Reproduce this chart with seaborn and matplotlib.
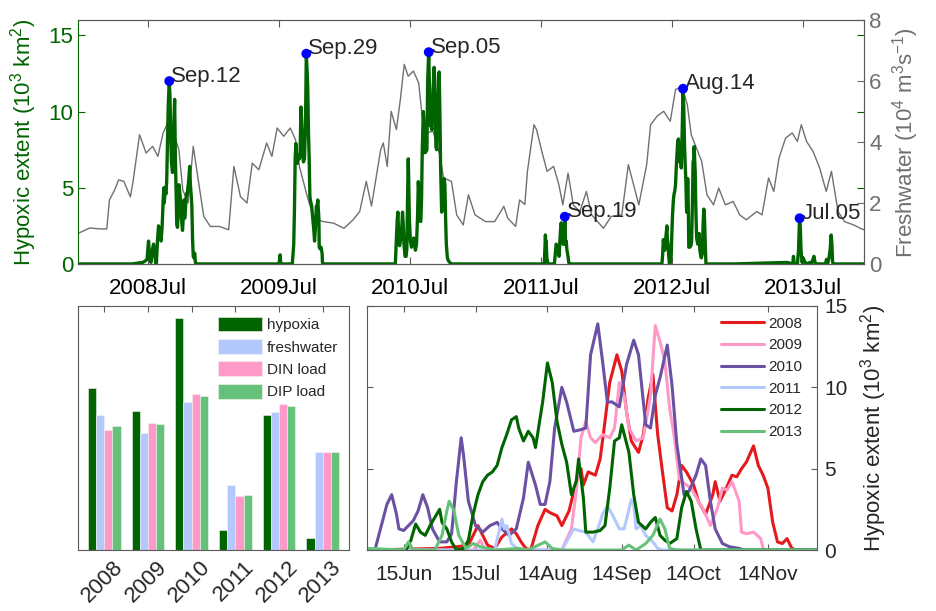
import numpy as np
import pandas as pd
import matplotlib
matplotlib.use("Agg")
import matplotlib.pyplot as plt
import matplotlib.transforms as mtrans
import seaborn as sns
from datetime import date, timedelta

# ---------------- data ----------------
years = [2008, 2009, 2010, 2011, 2012, 2013]

# daily hypoxic extent (10^3 km^2) : (day of year, value)
hyp_2008 = [(1, 0), (152, 0), (182, 0.1), (189, 0.2), (194, 0.3), (198, 1.5), (200, 0.9), (202, 0.3), (205, 0.1),
            (208, 0.8), (212, 1.3), (214, 1.0), (216, 0.5), (218, 0.1), (220, 0), (223, 1.5), (226, 2.5), (228, 2.3),
            (231, 2.1), (233, 1.5), (236, 2.4), (239, 4.2), (241, 5.0), (242, 4.0), (244, 4.8), (247, 4.6), (249, 5.6),
            (251, 7.9), (253, 10.3), (256, 12.0), (258, 11.0), (260, 8.5), (262, 6.7), (265, 6.0), (267, 7.1),
            (269, 9.3), (271, 10.8), (273, 7.1), (275, 4.8), (277, 2.6), (279, 2.4), (281, 3.4), (283, 5.2),
            (285, 4.8), (288, 4.0), (290, 3.0), (293, 2.2), (296, 3.4), (297, 4.2), (299, 3.0), (301, 3.6),
            (304, 4.6), (306, 4.5), (308, 5.0), (310, 5.4), (313, 6.4), (315, 5.2), (317, 4.6), (319, 3.8),
            (321, 1.7), (323, 0.5), (325, 0.4), (327, 0.7), (329, 0.1), (331, 0), (366, 0)]
hyp_2009 = [(1, 0), (152, 0), (196, 0), (199, 0.6), (201, 0), (233, 0), (237, 1.3), (239, 3.6), (241, 6.9), (243, 7.9),
            (245, 6.9), (247, 6.6), (250, 7.1), (253, 6.9), (255, 7.5), (257, 10.3), (259, 9.5), (261, 7.5), (264, 6.7),
            (267, 6.9), (270, 9.5), (272, 13.8), (274, 12.8), (276, 11.6), (278, 8.7), (280, 6.9), (282, 4.4),
            (284, 4.1), (287, 3.8), (290, 3.0), (293, 2.2), (295, 1.5), (298, 2.6), (300, 3.8), (302, 3.7), (304, 4.2),
            (307, 3.0), (308, 1.1), (310, 1.0), (313, 1.1), (316, 0.7), (317, 0.1), (318, 0), (365, 0)]
hyp_2010 = [(1, 0), (152, 0), (155, 0), (160, 2.8), (162, 3.4), (164, 2.2), (165, 1.3), (167, 1.2), (169, 1.5),
            (171, 1.8), (173, 2.4), (175, 3.4), (177, 2.6), (179, 1.3), (182, 0.5), (185, 0.5), (187, 1.0), (189, 4.2),
            (191, 6.9), (192, 5.8), (194, 3.0), (197, 1.5), (200, 1.1), (203, 1.5), (206, 1.7), (208, 1.3), (211, 0.9),
            (214, 1.3), (217, 3.2), (219, 5.4), (222, 4.0), (224, 2.8), (226, 2.8), (228, 4.2), (230, 7.5),
            (233, 10.0), (235, 9.1), (238, 7.3), (241, 7.4), (243, 7.5), (245, 12.0), (248, 13.9), (250, 11.6),
            (252, 9.1), (254, 9.1), (257, 8.8), (260, 11.4), (263, 12.9), (265, 12.0), (268, 7.7), (270, 7.5),
            (272, 9.5), (274, 10.6), (277, 12.6), (279, 10.1), (281, 6.5), (284, 3.4), (286, 3.6), (289, 4.6),
            (291, 5.6), (293, 5.2), (295, 3.0), (297, 1.3), (300, 0.4), (303, 0.2), (307, 0.1), (309, 0), (365, 0)]
hyp_2011 = [(1, 0), (152, 0), (205, 0), (208, 1.9), (209, 1.3), (210, 1.5), (212, 0.4), (215, 0), (233, 0), (238, 1.3),
            (240, 1.2), (243, 1.1), (246, 0.5), (248, 1.3), (250, 2.2), (252, 2.7), (254, 2.2), (257, 1.3), (259, 1.3),
            (262, 3.1), (263, 2.8), (264, 1.3), (266, 1.5), (268, 0.9), (271, 0.5), (273, 0.1), (275, 0), (365, 0)]
hyp_2012 = [(1, 0), (152, 0), (168, 0), (170, 0.6), (172, 1.6), (174, 1.1), (176, 0.9), (178, 1.5), (180, 2.0),
            (182, 2.5), (183, 1.7), (185, 1.3), (187, 0.5), (189, 0), (192, 0.1), (194, 0.6), (196, 2.2), (198, 3.4),
            (200, 4.2), (202, 4.6), (204, 4.8), (206, 5.2), (208, 6.3), (210, 7.1), (212, 8.0), (214, 8.2), (215, 7.5),
            (217, 6.7), (219, 7.3), (221, 6.9), (222, 6.3), (225, 9.1), (227, 11.5), (229, 10.3), (231, 7.9),
            (233, 6.5), (235, 5.4), (237, 3.4), (239, 4.2), (240, 5.6), (242, 3.2), (243, 1.1), (246, 1.1), (249, 1.2),
            (251, 1.5), (253, 3.8), (255, 6.7), (257, 6.9), (258, 7.7), (261, 6.0), (263, 3.4), (265, 1.7), (268, 1.3),
            (270, 1.7), (272, 2.0), (274, 0.9), (276, 0.6), (278, 0.4), (281, 0.7), (283, 2.6), (285, 3.6), (287, 3.0),
            (289, 1.3), (291, 0), (366, 0)]
hyp_2013 = [(1, 0), (152, 0.1), (167, 0), (169, 0.5), (171, 0), (180, 0), (183, 0.9), (185, 2.4), (186, 3.0),
            (188, 2.4), (190, 0.9), (193, 0.1), (196, 0.4), (199, 0.2), (205, 0), (215, 0.1), (219, 0), (226, 0.5),
            (229, 0.1), (233, 0), (258, 0), (261, 0.3), (264, 0), (268, 0.4), (271, 0.9), (274, 1.9), (276, 1.3),
            (278, 0.1), (281, 0), (365, 0)]

# freshwater discharge (10^4 m^3 s^-1) : (decimal year, value)
freshwater = [(2008.00, 1.0), (2008.09, 1.18), (2008.17, 1.15), (2008.22, 1.15), (2008.24, 2.1), (2008.28, 2.43),
              (2008.31, 2.76), (2008.35, 2.71), (2008.40, 2.2), (2008.42, 2.7), (2008.47, 4.24), (2008.52, 3.64),
              (2008.57, 3.86), (2008.61, 3.53), (2008.65, 4.3), (2008.69, 4.68), (2008.73, 4.3), (2008.77, 3.75),
              (2008.80, 2.43), (2008.84, 2.0), (2008.88, 3.86), (2008.91, 2.98), (2008.96, 1.56), (2009.01, 1.23),
              (2009.08, 1.23), (2009.15, 1.12), (2009.19, 3.2), (2009.24, 2.21), (2009.29, 2.0), (2009.33, 3.31),
              (2009.38, 3.09), (2009.44, 3.97), (2009.48, 3.53), (2009.52, 4.46), (2009.57, 4.19), (2009.62, 4.46),
              (2009.66, 4.08), (2009.69, 3.2), (2009.75, 2.21), (2009.80, 1.5), (2009.87, 1.39), (2009.95, 1.34),
              (2010.03, 1.17), (2010.10, 1.45), (2010.15, 1.72), (2010.20, 2.71), (2010.24, 1.9), (2010.31, 3.75),
              (2010.33, 3.97), (2010.36, 3.2), (2010.39, 5.01), (2010.43, 4.41), (2010.46, 5.39), (2010.49, 6.55),
              (2010.52, 6.16), (2010.56, 6.33), (2010.60, 5.94), (2010.64, 4.3), (2010.71, 4.35), (2010.76, 3.59),
              (2010.79, 2.82), (2010.85, 2.71), (2010.89, 1.61), (2010.94, 1.28), (2010.98, 2.27), (2011.03, 1.61),
              (2011.11, 1.39), (2011.18, 1.39), (2011.25, 1.89), (2011.28, 1.5), (2011.34, 1.23), (2011.37, 2.1),
              (2011.41, 1.95), (2011.43, 3.04), (2011.48, 4.57), (2011.50, 4.4), (2011.54, 3.69), (2011.58, 3.04),
              (2011.63, 3.2), (2011.67, 2.6), (2011.70, 1.94), (2011.74, 2.98), (2011.78, 1.94), (2011.83, 1.72),
              (2011.88, 2.38), (2011.92, 1.61), (2012.01, 1.17), (2012.07, 1.56), (2012.15, 1.61), (2012.20, 3.26),
              (2012.24, 2.6), (2012.28, 1.94), (2012.34, 3.26), (2012.37, 4.57), (2012.42, 4.85), (2012.47, 5.01),
              (2012.52, 4.68), (2012.56, 5.72), (2012.61, 5.83), (2012.65, 5.23), (2012.68, 4.24), (2012.72, 3.8),
              (2012.76, 3.36), (2012.80, 2.27), (2012.85, 1.94), (2012.89, 2.49), (2012.94, 1.94), (2013.00, 2.05),
              (2013.05, 1.61), (2013.10, 1.45), (2013.18, 1.72), (2013.22, 1.61), (2013.27, 2.82), (2013.31, 2.38),
              (2013.35, 3.48), (2013.40, 4.13), (2013.45, 4.3), (2013.49, 4.02), (2013.52, 4.57), (2013.56, 4.02),
              (2013.61, 3.69), (2013.66, 3.15), (2013.71, 2.38), (2013.75, 3.04), (2013.80, 1.72), (2013.85, 1.39),
              (2013.92, 1.28), (2013.97, 1.17), (2014.00, 1.12)]

# annual (relative) indices for bar chart
bar_series = ["hypoxia", "freshwater", "DIN load", "DIP load"]
bar_hypoxia = [0.664, 0.570, 0.951, 0.082, 0.553, 0.049]
bar_freshwater = [0.553, 0.480, 0.607, 0.266, 0.566, 0.402]
bar_din = [0.492, 0.520, 0.639, 0.221, 0.598, 0.402]
bar_dip = [0.508, 0.516, 0.631, 0.225, 0.590, 0.402]

season_ticks = [167, 197, 227, 258, 288, 319]
season_labels = ["15Jun", "15Jul", "14Aug", "14Sep", "14Oct", "14Nov"]

# ---------------- style ----------------
sns.set_style("ticks")
plt.rcParams['font.family'] = ['Liberation Sans', 'DejaVu Sans']
plt.rcParams['mathtext.fontset'] = 'custom'
plt.rcParams['mathtext.rm'] = 'Liberation Sans'
plt.rcParams['mathtext.it'] = 'Liberation Sans:italic'
plt.rcParams['mathtext.default'] = 'regular'

GREEN = "#006400"
GRAY = "#707070"
SPINE = "#5a5a5a"
year_colors = ["#e41a1c", "#ff99c8", "#6a51a3", "#b3c8fc", "#006400", "#66c27a"]
bar_colors = ["#006400", "#b3c8fc", "#ff99c8", "#66c27a"]


def ndays(y):
    return 366 if y % 4 == 0 else 365


def dec_year(y, doy):
    return y + (doy - 1) / ndays(y)


hyp = dict(zip(years, [hyp_2008, hyp_2009, hyp_2010, hyp_2011, hyp_2012, hyp_2013]))
rows = []
for y in years:
    for d, v in hyp[y]:
        rows.append({"year": str(y), "doy": d, "value": v, "t": dec_year(y, d)})
hyp_df = pd.DataFrame(rows)
fw_df = pd.DataFrame(freshwater, columns=["t", "value"])

fig = plt.figure(figsize=(9.36, 6.11), dpi=100)

# ---------------- top panel ----------------
ax1 = fig.add_axes([0.0833, 0.568, 0.840, 0.399])
ax1r = ax1.twinx()
sns.lineplot(data=fw_df, x="t", y="value", ax=ax1r, color=GRAY, lw=1.0, estimator=None)
sns.lineplot(data=hyp_df, x="t", y="value", ax=ax1, color=GREEN, lw=2.4, estimator=None)
ax1.set_zorder(ax1r.get_zorder() + 1)
ax1.patch.set_visible(False)

peak_t, peak_v, peak_lab = [], [], []
for y in years:
    d, v = max(hyp[y], key=lambda p: p[1])
    peak_t.append(dec_year(y, d))
    peak_v.append(v)
    peak_lab.append((date(y, 1, 1) + timedelta(days=d - 1)).strftime("%b.%d"))
sns.scatterplot(x=peak_t, y=peak_v, ax=ax1, color="blue", s=50, edgecolor="none", zorder=5)
for t, v, lab in zip(peak_t, peak_v, peak_lab):
    ax1.annotate(lab, (t, v), xytext=(1.5, -0.5), textcoords="offset points",
                 fontsize=16, ha="left", va="baseline")

ax1.set_xlim(2008, 2014)
ax1.set_ylim(0, 16)
ax1r.set_ylim(0, 8)
ax1.set_xticks([dec_year(y, date(y, 7, 15).timetuple().tm_yday) for y in years])
ax1.set_xticklabels([f"{y}Jul" for y in years])
ax1.set_yticks([0, 5, 10, 15])
ax1r.set_yticks([0, 2, 4, 6, 8])
ax1.set_xlabel("")
ax1.set_ylabel("Hypoxic extent (10$^3$ km$^2$)", color=GREEN, fontsize=16, labelpad=7)
ax1r.set_ylabel("Freshwater (10$^4$ m$^3$s$^{-1}$)", color=GRAY, fontsize=16, labelpad=6)
ax1r.set_xlabel("")
ax1.tick_params(axis="x", direction="in", top=True, bottom=True, length=5, labelsize=16,
                color=SPINE, labelcolor="black", pad=10)
ax1.tick_params(axis="y", direction="in", left=True, right=True, length=5, labelsize=16,
                color=GREEN, labelcolor=GREEN)
ax1r.tick_params(axis="y", direction="in", length=5, labelsize=16, color=GRAY, labelcolor=GRAY)
for s in ["top", "bottom", "right"]:
    ax1.spines[s].set_color(SPINE)
ax1.spines["left"].set_color(GREEN)
ax1r.spines["right"].set_color(GRAY)
ax1r.spines["left"].set_visible(False)
ax1r.spines["top"].set_color(SPINE)
ax1r.spines["bottom"].set_color(SPINE)

# ---------------- bottom-left bar chart ----------------
ax2 = fig.add_axes([0.0833, 0.0998, 0.2896, 0.3994])
bar_rows = []
for name, vals in zip(bar_series, [bar_hypoxia, bar_freshwater, bar_din, bar_dip]):
    for y, v in zip(years, vals):
        bar_rows.append({"year": str(y), "series": name, "value": v})
bar_df = pd.DataFrame(bar_rows)
sns.barplot(data=bar_df, x="year", y="value", hue="series", hue_order=bar_series,
            palette=bar_colors, width=0.75, saturation=1, ax=ax2,
            edgecolor="#f4f4f4", linewidth=0.4)
ax2.set_xlim(-0.6, 5.6)
ax2.set_ylim(0, 1)
ax2.set_yticks([])
ax2.set_xlabel("")
ax2.set_ylabel("")
ax2.tick_params(axis="x", direction="in", top=True, bottom=True, length=4, labelsize=16,
                color=SPINE, pad=5)
plt.setp(ax2.get_xticklabels(), rotation=45, ha="right", rotation_mode="anchor")
off = mtrans.ScaledTranslation(6 / 72, 0, fig.dpi_scale_trans)
for lbl in ax2.get_xticklabels():
    lbl.set_transform(lbl.get_transform() + off)
for s in ax2.spines.values():
    s.set_color(SPINE)
h, l = ax2.get_legend_handles_labels()
ax2.legend(h, l, loc="upper right", frameon=False, fontsize=11, handlelength=2.9,
           handleheight=1.1, labelspacing=0.45, handletextpad=0.3, borderaxespad=0.3)

# ---------------- bottom-right seasonal lines ----------------
ax3 = fig.add_axes([0.3921, 0.0998, 0.4808, 0.3994])
sns.lineplot(data=hyp_df, x="doy", y="value", hue="year", hue_order=[str(y) for y in years],
             palette=year_colors, lw=2.2, ax=ax3, estimator=None)
ax3.set_xlim(151.7, 339.5)
ax3.set_ylim(0, 15)
ax3.set_xticks(season_ticks)
ax3.set_xticklabels(season_labels)
ax3.set_yticks([0, 5, 10, 15])
ax3.set_xlabel("")
ax3.yaxis.tick_right()
ax3.yaxis.set_label_position("right")
ax3.set_ylabel("Hypoxic extent (10$^3$ km$^2$)", fontsize=16, labelpad=8)
ax3.tick_params(axis="x", direction="in", top=True, bottom=True, length=4, labelsize=15,
                color=SPINE, pad=11)
ax3.tick_params(axis="y", direction="in", left=True, right=True, labelleft=False, labelright=True,
                length=4, labelsize=15, color=SPINE, pad=5)
for s in ax3.spines.values():
    s.set_color(SPINE)
h, l = ax3.get_legend_handles_labels()
ax3.legend(h, l, loc="upper right", frameon=False, fontsize=11, handlelength=2.8,
           labelspacing=0.5, handletextpad=0.25, borderaxespad=0.3, bbox_to_anchor=(0.99, 1.0))

fig.savefig("out.png", dpi=100)
